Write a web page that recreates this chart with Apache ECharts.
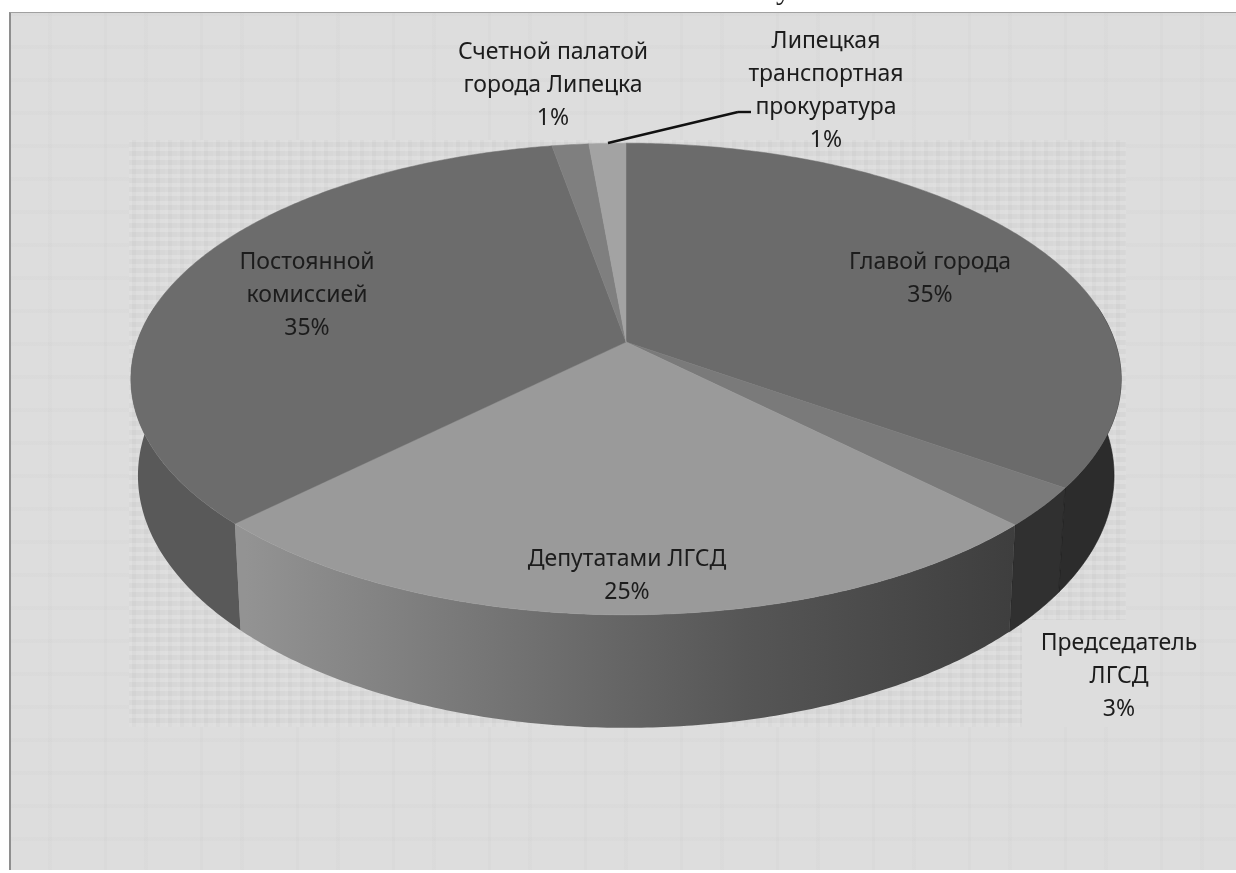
<!DOCTYPE html>
<html><head><meta charset="utf-8">
<style>
html,body{margin:0;padding:0;background:#fff;width:1236px;height:873px;overflow:hidden}
#panel{position:absolute;left:9px;top:12px;width:1227px;height:858px;box-sizing:border-box;border-left:2px solid #8e8e8e;border-top:1px solid #a0a0a0;
background-color:#dddddd;
background-image:repeating-linear-gradient(90deg,rgba(0,0,0,0) 0 37px,rgba(0,0,0,.012) 37px 41px,rgba(0,0,0,0) 41px 93px,rgba(0,0,0,.016) 93px 96px),
repeating-linear-gradient(0deg,rgba(0,0,0,0) 0 29px,rgba(0,0,0,.01) 29px 33px);}
#inner{position:absolute;left:129px;top:140px;width:997px;height:587px;background-color:#dadada;
background-image:repeating-linear-gradient(90deg,rgba(255,255,255,.07) 0 3px,rgba(0,0,0,.014) 3px 7px,rgba(255,255,255,.03) 7px 12px),
repeating-linear-gradient(0deg,rgba(255,255,255,.08) 0 4px,rgba(0,0,0,.018) 4px 9px);}
.patch{position:absolute;background:#dddddd}
#chart{position:absolute;left:0;top:0;width:1236px;height:873px}
</style>
<script src="https://cdn.jsdelivr.net/npm/echarts@6/dist/echarts.min.js"></script>
</head><body>
<div id="panel"></div><div id="inner"></div>
<div class="patch" style="left:1022px;top:620px;width:104px;height:107px"></div>
<div id="chart"></div>
<script>
// --- data ---
var categories = ['Главой города','Председатель\nЛГСД','Депутатами ЛГСД','Постоянной\nкомиссией','Счетной палатой\nгорода Липецка','Липецкая\nтранспортная\nпрокуратура'];
var values = [34.8, 2.7, 25.1, 34.6, 1.4, 1.4];
// --- styles / layout ---
var topColors = ['#6b6b6b','#7a7a7a','#9a9a9a','#6c6c6c','#7f7f7f','#a3a3a3'];
var sideColors = ['#2c2c2c','#303030',
  {type:'linear',x:245,y:0,x2:1015,y2:0,global:true,colorStops:[{offset:0,color:'#939393'},{offset:.3,color:'#777777'},{offset:.65,color:'#565656'},{offset:1,color:'#3e3e3e'}]},
  '#595959','#595959','#595959'];
var labelAt = [[930,279],[1119,676],[627,576],[307,295],[553,85],[826,91]];
var TOP = {cx:626, cy:342, r:489, a:230, b:0.157};
var LOW = {cx:626, cy:436, r:482, a:246, b:0.157};
function rim(m, th){
  var c=Math.cos(th), s=Math.sin(th), w=1+m.b*c;
  return [m.cx+m.r*s/w, m.cy-m.a*c/w];
}
function arc(m, a0, a1){
  var pts=[], n=Math.max(2,Math.ceil(Math.abs(a1-a0)/0.01));
  for(var i=0;i<=n;i++) pts.push(rim(m,a0+(a1-a0)*i/n));
  return pts;
}
var total = values.reduce(function(p,v){return p+v},0);
var starts = values.reduce(function(acc,v){acc.push(acc[acc.length-1]+v);return acc},[0]);
var chart = echarts.init(document.getElementById('chart'),null,{renderer:'canvas'});
chart.setOption({
  animation:false,
  backgroundColor:'transparent',
  graphic:[
    {type:'line',z:5,silent:true,shape:{x1:608,y1:143,x2:738,y2:112},style:{stroke:'#111',lineWidth:2.4}},
    {type:'line',z:5,silent:true,shape:{x1:738,y1:112,x2:751,y2:112},style:{stroke:'#111',lineWidth:2.4}},
    {type:'text',z:5,silent:true,left:776,top:-24,style:{text:'у',font:'30px "Liberation Serif"',fill:'#222'}}
  ],
  series:[{
    type:'custom',
    coordinateSystem:'none',
    data:values.map(function(v,i){return {name:categories[i],value:[v,i]}}),
    renderItem:function(params,api){
      var i=api.value(1), v=api.value(0);
      var a0=starts[i]/total*2*Math.PI, a1=(starts[i]+v)/total*2*Math.PI;
      var kids=[];
      var limR=Math.PI*0.45, limL=Math.PI*1.55;
      var s0=Math.max(a0,limR), s1=Math.min(a1,limL);
      if(s1>s0){
        var up=arc(TOP,s0,s1), dn=arc(LOW,s0,s1).reverse();
        kids.push({type:'polygon',z2:1,shape:{points:up.concat(dn)},style:{fill:sideColors[i],stroke:i<2?'#1e1e1e':null,lineWidth:i<2?0.6:0}});
      }
      var pts=[[TOP.cx,TOP.cy]].concat(arc(TOP,a0,a1));
      kids.push({type:'polygon',z2:2,shape:{points:pts},style:{fill:topColors[i],stroke:topColors[i],lineWidth:0.5}});
      kids.push({type:'text',z2:3,x:labelAt[i][0],y:labelAt[i][1],style:{
        text:categories[i]+'\n'+Math.round(v/total*100)+'%',
        align:'center',verticalAlign:'middle',font:'23px "Noto Sans"',lineHeight:33,fill:'#1c1c1c'}});
      return {type:'group',children:kids};
    }
  }]
});
</script>
</body></html>
